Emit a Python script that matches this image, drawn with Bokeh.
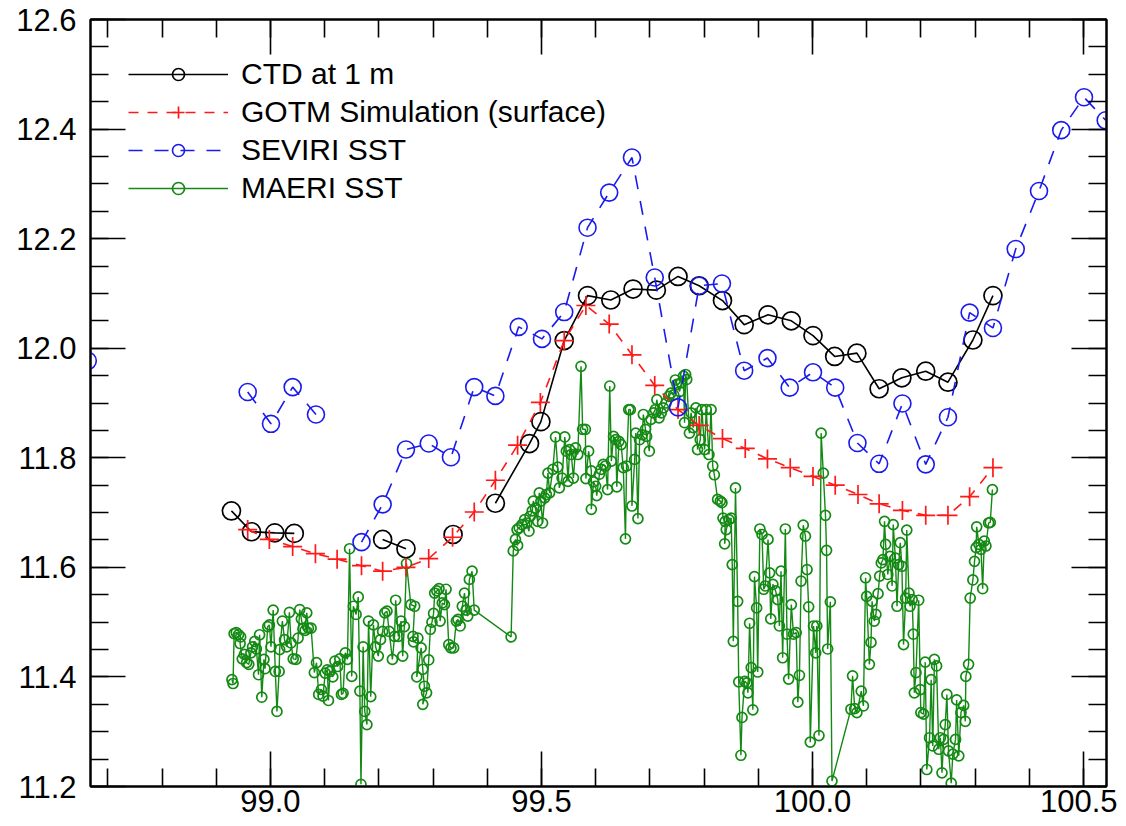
import math
from bokeh.plotting import figure
from bokeh.models import (Range1d, LinearAxis, FixedTicker, PrintfTickFormatter,
                          Legend, LegendItem, ColumnDataSource, CustomLabelingPolicy)
from bokeh.embed import file_html
from bokeh.resources import INLINE

nan = float("nan")

# ---------------- data ----------------
ctd_lon = [98.928, 98.965, 99.008, 99.044, nan, 99.207, 99.250, nan, 99.337, nan,
           99.415, 99.478, 99.499, 99.542, 99.585, 99.628, 99.669, 99.712, 99.752,
           99.791, 99.834, 99.874, 99.918, 99.961, 100.001, 100.041, 100.082,
           100.123, 100.165, 100.209, 100.250, 100.296, 100.333]
ctd_temp = [11.703, 11.665, 11.663, 11.662, nan, 11.651, 11.634, nan, 11.660, nan,
            11.717, 11.826, 11.866, 12.014, 12.096, 12.088, 12.108, 12.106, 12.131,
            12.114, 12.087, 12.043, 12.061, 12.050, 12.023, 11.985, 11.991,
            11.926, 11.946, 11.958, 11.938, 12.015, 12.096]

gotm_lon = [98.958, 98.998, 99.041, 99.083, 99.123, 99.168, 99.207, 99.250, 99.292,
            99.336, 99.376, 99.415, 99.456, 99.498, 99.542, 99.582, 99.625, 99.667,
            99.709, 99.752, 99.791, 99.834, 99.876, 99.917, 99.959, 100.001,
            100.042, 100.084, 100.123, 100.166, 100.209, 100.250, 100.290, 100.333]
gotm_temp = [11.669, 11.651, 11.638, 11.625, 11.615, 11.603, 11.593, 11.600, 11.616,
             11.655, 11.701, 11.759, 11.823, 11.901, 12.014, 12.078, 12.044, 11.988,
             11.932, 11.888, 11.859, 11.835, 11.817, 11.798, 11.782, 11.766,
             11.750, 11.733, 11.716, 11.704, 11.695, 11.695, 11.729, 11.782]

seviri_lon = [98.663, nan, 98.958, 99.001, 99.041, 99.084, nan,
              99.168, 99.207, 99.250, 99.292, 99.333, 99.376, 99.415, 99.458, 99.501,
              99.542, 99.585, 99.625, 99.667, 99.709, 99.752, 99.791, 99.833, 99.874,
              99.917, 99.958, 100.001, 100.042, 100.083, 100.123, 100.166, 100.209,
              100.250, 100.290, 100.333, 100.375, 100.418, 100.459, 100.501, 100.541]
seviri_sst = [11.977, nan, 11.920, 11.862, 11.929, 11.879, nan,
              11.646, 11.715, 11.815, 11.826, 11.801, 11.929, 11.913, 12.039, 12.017,
              12.066, 12.220, 12.284, 12.348, 12.129, 11.892, 12.114, 12.118, 11.959,
              11.982, 11.928, 11.956, 11.928, 11.827, 11.789, 11.899, 11.788,
              11.874, 12.065, 12.037, 12.181, 12.287, 12.398, 12.458, 12.416]

maeri_lon = [
    98.929, 98.931, 98.933, 98.937, 98.941, 98.945, 98.944, 98.948, 98.952, 98.956,
    98.960, 98.964, 98.967, 98.971, 98.974, 98.978, 98.980, 98.984, 98.988, 98.990,
    98.995, 98.998, 99.001, 99.005, 99.009, 99.012, 99.016, 99.017, 99.022, 99.026,
    99.030, 99.035, 99.038, 99.042, 99.047, 99.051, 99.054, 99.057, 99.060, 99.064,
    99.067, 99.070, 99.075, 99.081, 99.085, 99.089, 99.094, 99.097, 99.101, 99.105,
    99.107, 99.110, 99.115, 99.119, 99.124, 99.128, 99.131, 99.134, 99.138, 99.142,
    99.146, 99.150, 99.153, 99.158, 99.162, 99.165, 99.167, 99.171, 99.174, 99.178,
    99.181, 99.185, 99.190, 99.194, 99.199, 99.203, 99.207, 99.211, 99.215, 99.219,
    99.225, 99.229, 99.231, 99.236, 99.241, 99.244, 99.247, 99.251,
    99.259, 99.266, 99.263, 99.264, 99.272, 99.270, 99.278, 99.281, 99.284, 99.281,
    99.288, 99.292, 99.295, 99.298, 99.301, 99.303, 99.307, 99.311, 99.313, 99.317,
    99.321, 99.324, 99.329, 99.333, 99.338, 99.343, 99.346, 99.350, 99.354, 99.358,
    99.361, 99.364, 99.367, 99.372, 99.376, 99.444, 99.448, 99.452, 99.456, 99.455,
    99.459, 99.464, 99.469, 99.473, 99.477, 99.479, 99.483, 99.485, 99.489, 99.493,
    99.496, 99.499, 99.502, 99.506, 99.509, 99.512,
    99.515, 99.521, 99.526, 99.530, 99.533, 99.538, 99.543, 99.546, 99.549, 99.552,
    99.555, 99.559, 99.563, 99.567, 99.573, 99.576, 99.581, 99.582, 99.587, 99.592,
    99.592, 99.596, 99.600, 99.602, 99.607, 99.610, 99.614, 99.618, 99.622, 99.626,
    99.629, 99.633, 99.637, 99.639, 99.643, 99.647, 99.651, 99.655, 99.657, 99.661,
    99.664, 99.667, 99.672, 99.674, 99.678, 99.681, 99.686, 99.688, 99.692, 99.694,
    99.699, 99.702, 99.707, 99.710, 99.713, 99.717, 99.721, 99.725, 99.730, 99.735,
    99.739, 99.744, 99.747, 99.750, 99.755, 99.758, 99.762, 99.764, 99.766, 99.768,
    99.773, 99.776, 99.780, 99.785, 99.788, 99.793, 99.796, 99.801, 99.804, 99.809,
    99.813, 99.816, 99.819,
    99.825, 99.830, 99.833, 99.835, 99.839, 99.838, 99.841, 99.846, 99.850, 99.852,
    99.854, 99.858, 99.862, 99.864, 99.868, 99.870, 99.875, 99.879, 99.881, 99.884,
    99.887, 99.890, 99.893, 99.897, 99.899, 99.903, 99.907, 99.910, 99.913, 99.918,
    99.921, 99.923, 99.927, 99.932, 99.936, 99.939, 99.942, 99.945, 99.950, 99.953,
    99.956, 99.961, 99.965, 99.970, 99.973, 99.976, 99.979, 99.983, 99.987, 99.990,
    99.993, 99.996, 100.002, 100.006, 100.008, 100.012, 100.016, 100.020, 100.024,
    100.026, 100.028, 100.033, 100.036, 100.071, 100.074, 100.078, 100.082,
    100.090, 100.094, 100.098, 100.100, 100.105, 100.108, 100.110, 100.114, 100.117,
    100.121, 100.124, 100.127, 100.130, 100.133, 100.135, 100.139, 100.143, 100.147,
    100.149, 100.153, 100.156, 100.159, 100.162, 100.165, 100.168, 100.172, 100.174,
    100.178, 100.180, 100.184, 100.186, 100.188, 100.191, 100.196, 100.199, 100.200,
    100.205, 100.208, 100.211, 100.216, 100.219, 100.222, 100.225, 100.229, 100.233,
    100.236, 100.239, 100.242, 100.245, 100.248, 100.251, 100.256, 100.259, 100.264,
    100.266, 100.270, 100.274, 100.279, 100.282, 100.283, 100.288, 100.291, 100.296,
    100.299, 100.302, 100.303, 100.307, 100.311, 100.314, 100.317, 100.320, 100.325,
    100.328, 100.332]
maeri_sst = [
    11.395, 11.388, 11.479, 11.481, 11.477, 11.473, 11.461, 11.433, 11.441, 11.426,
    11.423, 11.444, 11.455, 11.465, 11.451, 11.404, 11.477, 11.363, 11.432, 11.415,
    11.492, 11.495, 11.455, 11.522, 11.410, 11.337, 11.410, 11.450, 11.502, 11.468,
    11.455, 11.518, 11.462, 11.433, 11.432, 11.471, 11.523, 11.506, 11.488, 11.485,
    11.517, 11.489, 11.489, 11.408, 11.426, 11.368, 11.377, 11.365, 11.407, 11.413,
    11.357, 11.410, 11.400, 11.429, 11.419, 11.433, 11.368, 11.370, 11.444, 11.432,
    11.634, 11.401, 11.529, 11.514, 11.546, 11.374, 11.204, 11.455, 11.337, 11.313,
    11.502, 11.364, 11.495, 11.455, 11.438, 11.468, 11.483, 11.517, 11.520, 11.483,
    11.432, 11.474, 11.540, 11.474, 11.502, 11.438, 11.492, 11.607,
    11.532, 11.529, 11.474, 11.464, 11.471, 11.400, 11.453, 11.414, 11.383, 11.350,
    11.371, 11.431, 11.487, 11.500, 11.516, 11.553, 11.557, 11.561, 11.502, 11.535,
    11.532, 11.560, 11.459, 11.453, 11.453, 11.502, 11.505, 11.493, 11.529, 11.553,
    11.522, 11.511, 11.578, 11.593, 11.522, 11.473, 11.630, 11.651, 11.640, 11.669,
    11.672, 11.678, 11.687, 11.681, 11.666, 11.693, 11.703, 11.721, 11.708, 11.684,
    11.736, 11.721, 11.681, 11.727, 11.733, 11.772,
    11.736, 11.779, 11.838, 11.783, 11.745, 11.763, 11.838, 11.812, 11.757, 11.815,
    11.806, 11.763, 11.818, 11.806, 11.967, 11.852, 11.852, 11.762, 11.812, 11.776,
    11.706, 11.756, 11.748, 11.731, 11.770, 11.779, 11.788, 11.785, 11.742, 11.931,
    11.794, 11.839, 11.833, 11.747, 11.830, 11.824, 11.782, 11.652, 11.785, 11.888,
    11.888, 11.712, 11.797, 11.845, 11.689, 11.833, 11.842, 11.879, 11.852, 11.839,
    11.812, 11.870, 11.882, 11.888, 11.906, 11.873, 11.882, 11.891, 11.900, 11.912,
    11.918, 11.915, 11.942, 11.934, 11.921, 11.937, 11.949, 11.864, 11.952, 11.943,
    11.845, 11.882, 11.855, 11.891, 11.815, 11.833, 11.888, 11.815, 11.888, 11.806,
    11.888, 11.785, 11.769,
    11.724, 11.721, 11.718, 11.690, 11.684, 11.643, 11.669, 11.687, 11.690, 11.605,
    11.465, 11.745, 11.538, 11.391, 11.257, 11.326, 11.392, 11.389, 11.371, 11.498,
    11.417, 11.340, 11.583, 11.526, 11.409, 11.670, 11.660, 11.560, 11.566, 11.651,
    11.590, 11.506, 11.569, 11.557, 11.541, 11.493, 11.593, 11.435, 11.670, 11.478,
    11.396, 11.532, 11.478, 11.481, 11.354, 11.403, 11.575, 11.677, 11.657, 11.596,
    11.528, 11.281, 11.493, 11.444, 11.493, 11.293, 11.845, 11.772, 11.695,
    11.631, 11.451, 11.537, 11.210, 11.341, 11.402, 11.342, 11.335,
    11.374, 11.347, 11.581, 11.547, 11.423, 11.463, 11.538, 11.502, 11.514,
    11.552, 11.584, 11.608, 11.614, 11.684, 11.642, 11.587, 11.620, 11.566,
    11.678, 11.617, 11.529, 11.605, 11.645, 11.602, 11.459, 11.544, 11.668,
    11.553, 11.529, 11.541, 11.478, 11.371, 11.408, 11.540, 11.377, 11.335,
    11.332, 11.427, 11.231, 11.289, 11.395, 11.274, 11.432, 11.420, 11.268,
    11.289, 11.225, 11.286, 11.313, 11.368, 11.265, 11.206, 11.259, 11.286,
    11.358, 11.256, 11.335, 11.348, 11.319, 11.401, 11.423, 11.544, 11.577,
    11.611, 11.636, 11.674, 11.642, 11.633, 11.561, 11.648, 11.639, 11.681,
    11.682, 11.742]

x_major = [99.0, 99.5, 100.0, 100.5]
x_minor = [round(98.7 + 0.1 * i, 1) for i in range(19)]
y_major = [11.2, 11.4, 11.6, 11.8, 12.0, 12.2, 12.4, 12.6]
y_minor = [round(11.2 + 0.05 * i, 2) for i in range(29)]

labels = ["CTD at 1 m", "GOTM Simulation (surface)", "SEVIRI SST", "MAERI SST"]

# ---------------- figure ----------------
FONT = "Liberation Sans"
RED = "#ff1a1a"
BLUE = "#1a1aee"
GREEN = "#148a14"

p = figure(width=1117, height=825,
           x_range=Range1d(98.668, 100.5425), y_range=Range1d(11.2, 12.6),
           output_backend="svg", toolbar_location=None,
           min_border_left=90, min_border_right=11,
           min_border_top=19, min_border_bottom=39)
p.xgrid.visible = False
p.ygrid.visible = False
p.outline_line_color = "black"
p.outline_line_width = 2
p.background_fill_color = "white"
p.border_fill_color = "white"

xt = FixedTicker(ticks=x_major, minor_ticks=x_minor)
yt = FixedTicker(ticks=y_major, minor_ticks=y_minor)
fmt = PrintfTickFormatter(format="%.1f")


def style_axis(ax, show_labels):
    ax.axis_line_color = "black"
    ax.axis_line_width = 2
    ax.major_tick_in = 35
    ax.major_tick_out = 0
    ax.minor_tick_in = 18
    ax.minor_tick_out = 0
    ax.major_tick_line_width = 1.6
    ax.minor_tick_line_width = 1.6
    ax.major_tick_line_color = "black"
    ax.minor_tick_line_color = "black"
    if show_labels:
        ax.major_label_text_font = FONT
        ax.major_label_text_font_size = "31px"
        ax.major_label_text_color = "black"
    else:
        # mirrored tick marks only: hide every label of this axis
        ax.major_label_policy = CustomLabelingPolicy(code="return []")
        ax.major_label_text_font_size = "1px"
        ax.major_label_standoff = 0


xa = p.xaxis[0]
xa.ticker = xt
xa.formatter = fmt
style_axis(xa, True)
xa.major_label_standoff = 3

ya = p.yaxis[0]
ya.ticker = yt
ya.formatter = fmt
style_axis(ya, True)
ya.major_label_standoff = 14

top = LinearAxis(ticker=xt, formatter=fmt)
style_axis(top, False)
p.add_layout(top, "above")
right = LinearAxis(ticker=yt, formatter=fmt)
style_axis(right, False)
p.add_layout(right, "right")

# ---------------- series ----------------
maeri_src = ColumnDataSource(dict(x=maeri_lon, y=maeri_sst))
m_line = p.line("x", "y", source=maeri_src, line_color=GREEN, line_width=1.4)
m_pts = p.scatter("x", "y", source=maeri_src, marker="circle", size=10,
                  fill_alpha=0, line_color=GREEN, line_width=1.7)

ctd_src = ColumnDataSource(dict(x=ctd_lon, y=ctd_temp))
c_line = p.line("x", "y", source=ctd_src, line_color="black", line_width=1.6)
c_pts = p.scatter("x", "y", source=ctd_src, marker="circle", size=18,
                  fill_alpha=0, line_color="black", line_width=1.7)

gotm_src = ColumnDataSource(dict(x=gotm_lon, y=gotm_temp))
g_line = p.line("x", "y", source=gotm_src, line_color=RED, line_width=1.6,
                line_dash="10 9")
g_pts = p.scatter("x", "y", source=gotm_src, marker="cross", size=19,
                  line_color=RED, line_width=1.7)

sev_src = ColumnDataSource(dict(x=seviri_lon, y=seviri_sst))
s_line = p.line("x", "y", source=sev_src, line_color=BLUE, line_width=1.6,
                line_dash="14 12")
s_pts = p.scatter("x", "y", source=sev_src, marker="circle", size=17,
                  fill_alpha=0, line_color=BLUE, line_width=1.6)

legend = Legend(items=[
    LegendItem(label=labels[0], renderers=[c_line, c_pts]),
    LegendItem(label=labels[1], renderers=[g_line, g_pts]),
    LegendItem(label=labels[2], renderers=[s_line, s_pts]),
    LegendItem(label=labels[3], renderers=[m_line, m_pts]),
], location="top_left")
legend.margin = 38
legend.padding = 0
legend.spacing = 4
legend.glyph_width = 100
legend.glyph_height = 30
legend.label_height = 30
legend.label_standoff = 13
legend.label_text_font = FONT
legend.label_text_font_size = "30px"
legend.label_text_color = "black"
legend.border_line_color = None
legend.background_fill_alpha = 0
p.add_layout(legend)

open("out.html", "w").write(file_html(p, INLINE))
